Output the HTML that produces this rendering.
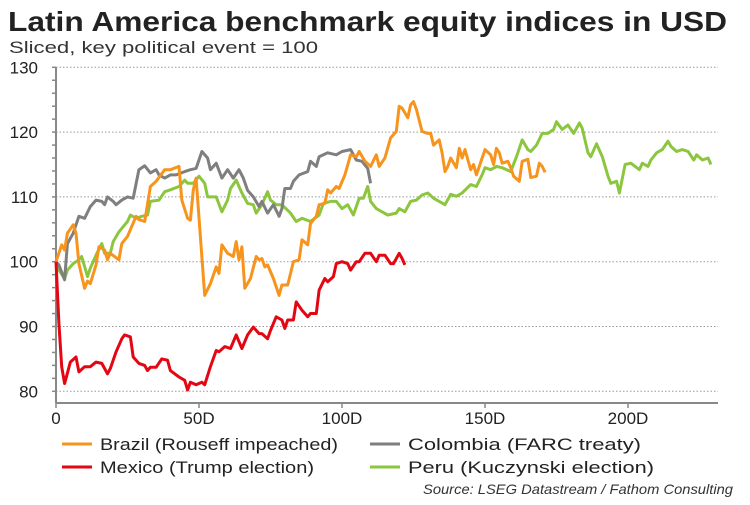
<!DOCTYPE html>
<html><head><meta charset="utf-8"><style>
body{margin:0;background:#fff;font-family:"Liberation Sans",Arial,sans-serif}
svg text{font-family:"Liberation Sans",Arial,sans-serif}
</style></head><body>
<svg id="c" width="750" height="500" viewBox="0 0 750 500">
<text x="8" y="31" font-size="28" font-weight="bold" fill="#222" textLength="719" lengthAdjust="spacingAndGlyphs">Latin America benchmark equity indices in USD</text>
<text x="9" y="53" font-size="17" fill="#333" textLength="309" lengthAdjust="spacingAndGlyphs">Sliced, key political event = 100</text>
<g id="grid"></g><g id="axes"></g><g id="series"></g>
<g>
<g><line x1="62" y1="444" x2="92" y2="444" stroke="#f7941d" stroke-width="3"/><text x="100" y="450" font-size="17" fill="#222" textLength="238" lengthAdjust="spacingAndGlyphs">Brazil (Rouseff impeached)</text></g>
<g><line x1="370" y1="444" x2="400" y2="444" stroke="#7f7f7f" stroke-width="3"/><text x="408" y="450" font-size="17" fill="#222" textLength="233" lengthAdjust="spacingAndGlyphs">Colombia (FARC treaty)</text></g>
<g><line x1="62" y1="467" x2="92" y2="467" stroke="#e30613" stroke-width="3"/><text x="100" y="473" font-size="17" fill="#222" textLength="214" lengthAdjust="spacingAndGlyphs">Mexico (Trump election)</text></g>
<g><line x1="370" y1="467" x2="400" y2="467" stroke="#8cc63f" stroke-width="3"/><text x="408" y="473" font-size="17" fill="#222" textLength="246" lengthAdjust="spacingAndGlyphs">Peru (Kuczynski election)</text></g>
</g>
<text x="423" y="494" font-size="14" font-style="italic" fill="#333" textLength="310" lengthAdjust="spacingAndGlyphs">Source: LSEG Datastream / Fathom Consulting</text>
</svg>
<script>
const yTicks=[80,90,100,110,120,130];
const xTicks=[0,50,100,150,200];
const xTickLabels=["0","50D","100D","150D","200D"];
const brazilDays=[0,2,3,4,6,7,8,10,11,12,14,15,17,18,19,22,23,25,28,29,31,33,35,38,40,43,44,46,47,48,49,52,54,56,57,58,60,62,63,64,65,66,68,70,71,72,73,74,76,78,79,81,83,85,86,88,89,91,92,94,95,96,98,99,101,103,105,106,108,110,112,113,115,117,119,120,121,123,124,125,126,128,130,131,132,134,135,136,137,138,140,141,142,143,145,146,147,148,150,152,153,154,155,156,158,159,160,162,163,165,166,168,169,170,171];
const brazilVals=[100,102.6,101.8,104.4,105.7,104.4,99.7,95.9,97,96.6,99.5,102.3,101.8,100.3,101.3,100.3,102.8,103.9,107,106.5,106.2,111.6,112.4,114.2,114.2,114.7,109.5,106.7,106.4,111.1,112.9,94.8,96.6,99.2,98.2,102.6,101.3,100.8,103.1,100.3,102.3,95.9,97.4,100.8,100.3,100.5,99.2,99.5,97.4,94.8,96.4,96.4,100,100.3,103.4,102.6,105.9,107,108.8,109,111.1,110.6,111.6,111.3,113.4,116.5,116.2,117,115.5,114.7,116.5,114.7,116,119.1,120.1,124,123.7,122.2,124.2,124.7,123.5,120.1,119.8,119.8,118,118.8,116.8,113.9,114.7,116,114.5,117.5,116,117.3,114.2,115,113.4,114.7,117.3,116.5,115,117.5,116.8,115.2,115.5,114.5,113.2,112.4,115.5,115.8,113,113.2,115.2,114.7,113.8];
const colombiaDays=[0,1,3,4,6,8,10,12,14,16,17,18,20,21,23,25,27,29,31,33,35,36,38,40,42,45,47,49,51,53,54,56,58,60,62,64,65.5,67,69,71,72,74,76,78,79,80,82,83,85,88,89,91,92,95,98,100,103,105,107,109,110];
const colombiaVals=[100,99.5,97.2,102.8,104.4,107,106.7,108.5,109.5,109.3,108.8,110,109.3,108.8,109.5,110,109.8,114.2,114.8,113.7,114.2,113.4,112.9,113.4,113.4,113.9,114.2,114.4,117,116,114.2,115.2,112.9,114.2,112.9,114.2,112.9,111,110,108.5,109.3,107.5,108.8,107,108.2,111.3,111.3,112.4,113.4,113.9,115.5,114.7,116.2,116.8,116.5,117,117.3,115.7,115.5,114.4,112.1];
const mexicoDays=[0,1,2,3,4,5,7,8,10,12,14,16,18,19,21,23,24,26,27,29,31,32,33,35,37,39,40,43,45,46,47,49,51,52,54,56,57,59,61,63,65,67,69,71,72,74,75,77,79,80,81,83,84,86,88,89,91,92,94,95,97,98,100,102,103,105,106,108,110,112,113,115,117,118,120,121,122];
const mexicoVals=[100,90.5,83.8,81.2,82.8,84.5,85.3,83,83.8,83.8,84.5,84.3,82.7,83.5,86.1,88.1,88.7,88.4,85.3,84.3,84,83.2,83.7,83.7,85,84.8,83.2,82.2,81.7,80.2,81.4,81,81.4,81,83.8,86.3,86.1,86.9,86.6,88.7,86.6,88.7,89.9,88.9,88.9,88.1,89.4,91.5,91,89.7,91,91,93.8,92.5,91.5,92,92,95.6,97.4,96.9,97.7,99.7,100,99.7,98.7,100,100,101.3,101.3,100,101,101,99.7,99.7,101.3,100.5,99.5];
const peruDays=[0,1,3,4,6,8,9,11,12,14,16,17,19,20,22,25,26,28,30,32,33,36,38,40,43,45,46,48,50,52,53,56,58,60,61,63,65,67,69,70,72,74,75,77,79,82,84,86,89,92,93.5,96,98,100,102,104,106,107.5,109,110,112,114,116,119,120,122,124,126,128,130,132,134,136,138,140,142,145,147,149,150,152,154,156,159,161,163,165,166,168,170,172,174,175,177,179,181,183,184,186,187,189,191,193,194,196,197,199,201,204,205,207,208,210,212,214,215,217,219,221,223,224,226,228,229];
const peruVals=[100,98.7,97.4,98.7,99.7,100.3,100.8,97.7,99,101,102.8,101.3,101.3,103.1,104.6,106.2,107.2,106.7,107,107.2,109.3,109.5,110.8,111.1,111.6,112.6,112.1,112.1,113.2,112.1,110,110,107.7,109.5,111.3,112.6,110.6,109,108.8,107.5,108.8,110.8,109.5,108.8,108.8,107.5,106.2,106.7,106.2,107.2,109,109.3,109.3,108.2,108.8,107.2,109.8,109.8,111.6,109.3,108.2,107.7,107.2,107.5,108.2,107.7,109.3,109.5,110.3,110.6,109.8,109.3,108.8,110.4,110.1,110.6,111.9,111.6,113.4,114.5,114.2,114.7,114.5,113.9,116.2,118.8,117.3,117,118,119.8,119.8,120.4,121.6,120.4,121.1,119.8,121.4,120.6,116.8,116.2,118.2,116.2,113.2,112.1,112.4,110.6,115,115.2,114.2,115.2,114.7,115.7,116.8,117.3,118.6,117.8,117,117.3,117,115.7,116.5,115.7,116,115];
const X0=56,XD=2.86,Y100=261.7,YU=6.48;
function x(d){return X0+d*XD;}
function y(v){return Y100-(v-100)*YU;}
const NS="http://www.w3.org/2000/svg";
function mk(tag,attrs,parent){const e=document.createElementNS(NS,tag);for(const k in attrs)e.setAttribute(k,attrs[k]);parent.appendChild(e);return e;}
const grid=document.getElementById('grid'),axes=document.getElementById('axes'),ser=document.getElementById('series');
yTicks.forEach(v=>{
  const l=mk('line',{x1:X0,x2:718,y1:y(v),y2:y(v),stroke:'#999','stroke-width':1,'stroke-dasharray':'1.5,2'},grid);
  
  
  const t=mk('text',{x:38,y:y(v)+6,'font-size':17,'text-anchor':'end',fill:'#222'},axes);t.textContent=v;
  
  
});
for(let v=80;v<=130;v+=2){mk('line',{x1:X0-4,x2:X0,y1:y(v),y2:y(v),stroke:'#888','stroke-width':1.5},axes);}
const ya=mk('line',{x1:X0,x2:X0,y1:y(130),y2:403,stroke:'#888','stroke-width':2},axes);


const xa=mk('line',{x1:X0,x2:718,y1:403,y2:403,stroke:'#888','stroke-width':2},axes);


xTicks.forEach((d,i)=>{
  mk('line',{x1:x(d),x2:x(d),y1:403,y2:408,stroke:'#888','stroke-width':1.5},axes);
  const t=mk('text',{x:x(d),y:424,'font-size':17,'text-anchor':'middle',fill:'#222'},axes);t.textContent=xTickLabels[i];
  
  
});
function line(days,vals,color,name){
  const p=days.map((d,i)=>(i?'L':'M')+x(d).toFixed(1)+','+y(vals[i]).toFixed(1)).join('');
  const e=mk('path',{d:p,fill:'none',stroke:color,'stroke-width':3,'stroke-linejoin':'round'},ser);
  
  
}
line(peruDays,peruVals,'#8cc63f','peru-line');
line(colombiaDays,colombiaVals,'#7f7f7f','colombia-line');
line(brazilDays,brazilVals,'#f7941d','brazil-line');
line(mexicoDays,mexicoVals,'#e30613','mexico-line');
</script>
</body></html>
